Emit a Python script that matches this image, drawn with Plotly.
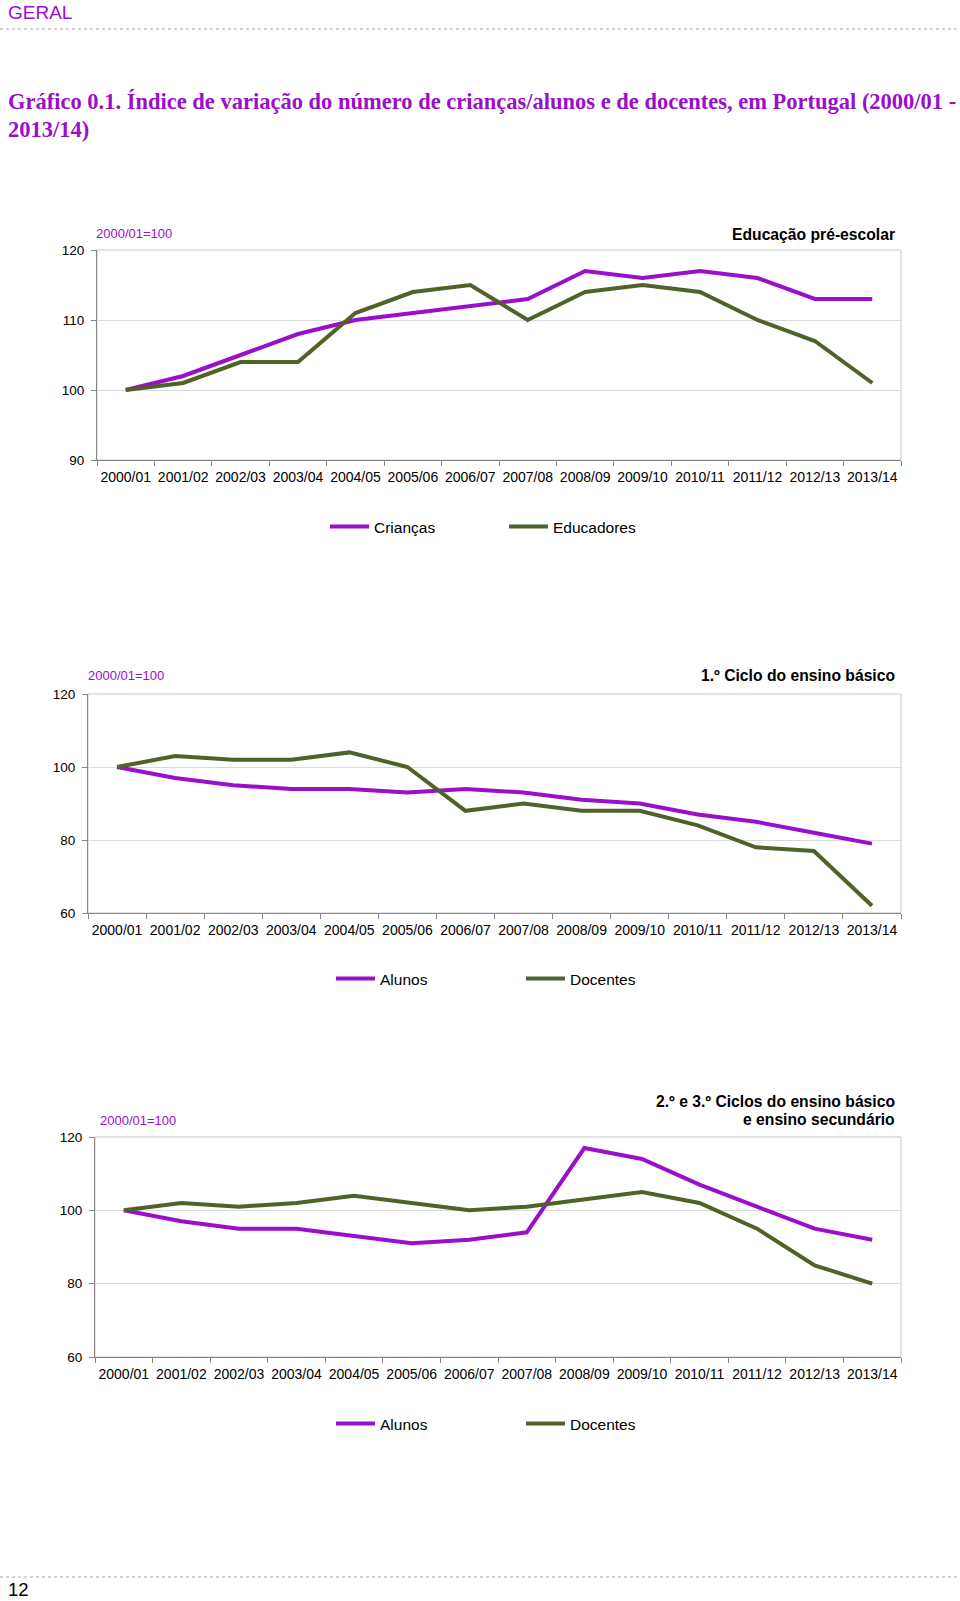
import plotly.graph_objects as go

# ---------------- data ----------------
years = ["2000/01", "2001/02", "2002/03", "2003/04", "2004/05", "2005/06", "2006/07",
         "2007/08", "2008/09", "2009/10", "2010/11", "2011/12", "2012/13", "2013/14"]

pre_criancas = [100, 102, 105, 108, 110, 111, 112, 113, 117, 116, 117, 116, 113, 113]
pre_educadores = [100, 101, 104, 104, 111, 114, 115, 110, 114, 115, 114, 110, 107, 101]

c1_alunos = [100, 97, 95, 94, 94, 93, 94, 93, 91, 90, 87, 85, 82, 79]
c1_docentes = [100, 103, 102, 102, 104, 100, 88, 90, 88, 88, 84, 78, 77, 62]

c23_alunos = [100, 97, 95, 95, 93, 91, 92, 94, 117, 114, 107, 101, 95, 92]
c23_docentes = [100, 102, 101, 102, 104, 102, 100, 101, 103, 105, 102, 95, 85, 80]

# ---------------- styling ----------------
W, H = 960, 1601
PURPLE = "#9A0ECC"
GREEN = "#4F6228"
FONT = "Liberation Sans, Arial, sans-serif"


def fx(px):
    return px / W


def fy(px):
    return 1 - px / H


panels = [
    dict(x0=97, x1=901, top=250, bot=460, rng=[90, 120], dtick=10,
         series=[("Crianças", pre_criancas, PURPLE), ("Educadores", pre_educadores, GREEN)],
         base=(94, 233), title=[(234, "Educação pré-escolar")],
         leg=(325, 527), entry=125),
    dict(x0=88, x1=901, top=694, bot=913, rng=[60, 120], dtick=20,
         series=[("Alunos", c1_alunos, PURPLE), ("Docentes", c1_docentes, GREEN)],
         base=(86, 675), title=[(675, "1.º Ciclo do ensino básico")],
         leg=(331, 979), entry=136),
    dict(x0=95, x1=901, top=1137, bot=1357, rng=[60, 120], dtick=20,
         series=[("Alunos", c23_alunos, PURPLE), ("Docentes", c23_docentes, GREEN)],
         base=(98, 1120), title=[(1101, "2.º e 3.º Ciclos do ensino básico"),
                                 (1119, "e ensino secundário")],
         leg=(331, 1424), entry=136),
]

fig = go.Figure()
annotations = []
shapes = []
layout_axes = {}

for i, p in enumerate(panels, start=1):
    sfx = "" if i == 1 else str(i)
    xa, ya = "x" + sfx, "y" + sfx
    lg = "legend" + sfx
    for name, vals, col in p["series"]:
        fig.add_trace(go.Scatter(x=years, y=vals, name=name, mode="lines",
                                 line=dict(color=col, width=4),
                                 xaxis=xa, yaxis=ya, legend=lg))
    layout_axes["xaxis" + sfx] = dict(
        domain=[fx(p["x0"]), fx(p["x1"])], anchor=ya, type="category",
        range=[-0.5, len(years) - 0.5], tickson="boundaries", tickangle=0,
        ticks="outside", ticklen=5, tickcolor="#868686", showline=True,
        linecolor="#868686", linewidth=1, showgrid=False, zeroline=False,
        tickfont=dict(family=FONT, size=14, color="#000000"), automargin=False,
        ticklabelstandoff=4, fixedrange=True)
    layout_axes["yaxis" + sfx] = dict(
        domain=[fy(p["bot"]), fy(p["top"])], anchor=xa, range=p["rng"],
        dtick=p["dtick"], tick0=p["rng"][0], ticks="outside", ticklen=5,
        tickcolor="#868686", showline=True, linecolor="#868686", linewidth=1,
        showgrid=True, gridcolor="#D9D9D9", gridwidth=1, zeroline=False,
        tickfont=dict(family=FONT, size=13.5, color="#000000"), automargin=False,
        ticklabelstandoff=4, fixedrange=True)
    layout_axes[lg] = dict(
        orientation="h", x=fx(p["leg"][0]), y=fy(p["leg"][1]), xanchor="left",
        yanchor="middle", font=dict(family=FONT, size=15.5, color="#000000"),
        entrywidth=p["entry"], entrywidthmode="pixels", itemwidth=39,
        bgcolor="rgba(0,0,0,0)", itemclick=False, itemdoubleclick=False)
    # plot area border (top/right light gray)
    shapes.append(dict(type="rect", xref=xa + " domain", yref=ya + " domain",
                       x0=0, x1=1, y0=0, y1=1, line=dict(color="#C8C8C8", width=1),
                       layer="below"))
    annotations.append(dict(text="2000/01=100", xref="paper", yref="paper",
                            x=fx(p["base"][0]), y=fy(p["base"][1]), xanchor="left",
                            yanchor="middle", showarrow=False,
                            font=dict(family=FONT, size=13, color=PURPLE)))
    for ty, txt in p["title"]:
        annotations.append(dict(text="<b>" + txt + "</b>", xref="paper", yref="paper",
                                x=fx(897), y=fy(ty), xanchor="right", yanchor="middle",
                                showarrow=False,
                                font=dict(family=FONT, size=15.7, color="#000000")))

# page header / footer
annotations += [
    dict(text="GERAL", xref="paper", yref="paper", x=fx(6), y=fy(12), xanchor="left",
         yanchor="middle", showarrow=False, font=dict(family=FONT, size=19, color=PURPLE)),
    dict(text="<b>Gráfico 0.1. Índice de variação do número de crianças/alunos e de docentes, em Portugal (2000/01 -</b>",
         xref="paper", yref="paper", x=fx(6), y=fy(102), xanchor="left", yanchor="middle",
         showarrow=False, font=dict(family="Liberation Serif, serif", size=22.5, color=PURPLE)),
    dict(text="<b>2013/14)</b>", xref="paper", yref="paper", x=fx(6), y=fy(129),
         xanchor="left", yanchor="middle", showarrow=False,
         font=dict(family="Liberation Serif, serif", size=22.5, color=PURPLE)),
    dict(text="12", xref="paper", yref="paper", x=fx(6), y=fy(1589), xanchor="left",
         yanchor="middle", showarrow=False, font=dict(family=FONT, size=18.5, color="#000000")),
]
shapes += [
    dict(type="line", xref="paper", yref="paper", x0=0, x1=fx(958), y0=fy(29), y1=fy(29),
         line=dict(color="#A6A6A6", width=1, dash="dot")),
    dict(type="line", xref="paper", yref="paper", x0=0, x1=fx(958), y0=fy(1577), y1=fy(1577),
         line=dict(color="#A6A6A6", width=1, dash="dot")),
]

fig.update_layout(width=W, height=H,
                  margin=dict(l=0, r=0, t=0, b=0, pad=0, autoexpand=False),
                  paper_bgcolor="white", plot_bgcolor="white",
                  annotations=annotations, shapes=shapes, **layout_axes)

fig.write_html("out.html")
